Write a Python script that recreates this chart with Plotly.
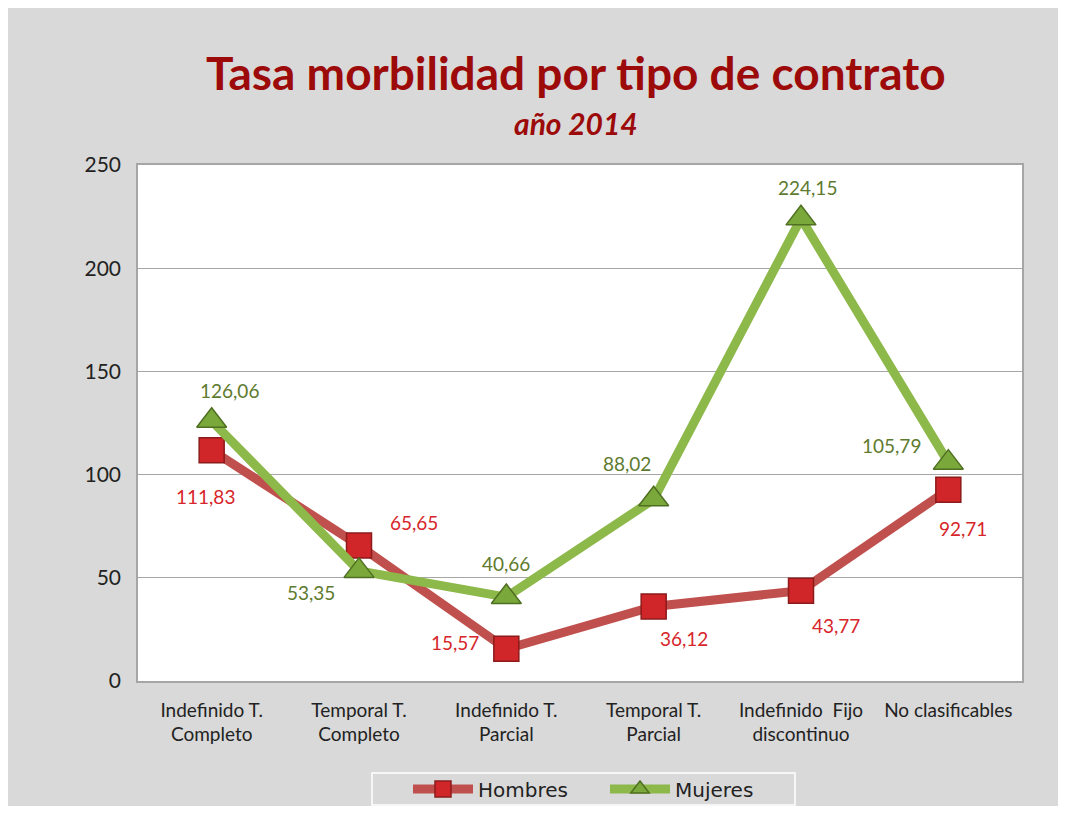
import plotly.graph_objects as go

categories = ["Indefinido T.<br>Completo", "Temporal T.<br>Completo", "Indefinido T.<br>Parcial",
              "Temporal T.<br>Parcial", "Indefinido  Fijo<br>discontinuo", "No clasificables"]
hombres = [111.83, 65.65, 15.57, 36.12, 43.77, 92.71]
mujeres = [126.06, 53.35, 40.66, 88.02, 224.15, 105.79]
y_ticks = [0, 50, 100, 150, 200, 250]

# label offsets (pixels) – styling only
h_off = [(-6, 46), (55, -23), (-51, -6), (30, 32), (35, 35), (15, 39)]
m_off = [(18, -30), (-48, 22), (0, -34), (-27, -36), (6, -31), (-57, -17)]

def fmt(v):
    return f"{v:.2f}".replace(".", ",")

FONT = "Lato, 'Open Sans', sans-serif"

# page offset of the figure (default body margin)
OFF = 8
FW, FH = 1050, 798
# plot area in figure pixels
L, R, T, B = 130, 1014, 157, 673
W, H = R - L, B - T

def px(xp):  # page x -> paper
    return (xp - OFF - L) / W

def py(yp):  # page y -> paper
    return (B - (yp - OFF)) / H

fig = go.Figure()
fig.add_trace(go.Scatter(
    x=categories, y=hombres, name="Hombres", mode="lines+markers",
    line=dict(color="#c0504d", width=9),
    marker=dict(symbol="square", size=25, color="#d0262a", line=dict(color="#8c1b1b", width=1.5)),
))
fig.add_trace(go.Scatter(
    x=categories, y=mujeres, name="Mujeres", mode="lines+markers",
    line=dict(color="#8db84a", width=9),
    marker=dict(symbol="triangle-up", size=26, color="#7aa83a", line=dict(color="#4f6f22", width=1.5)),
))

annotations = []
for c, v, (dx, dy) in zip(categories, hombres, h_off):
    annotations.append(dict(x=c, y=v, xref="x", yref="y", text=fmt(v), showarrow=False,
                            xshift=dx, yshift=-dy, font=dict(family=FONT, size=19, color="#d7262b")))
for c, v, (dx, dy) in zip(categories, mujeres, m_off):
    annotations.append(dict(x=c, y=v, xref="x", yref="y", text=fmt(v), showarrow=False,
                            xshift=dx, yshift=-dy, font=dict(family=FONT, size=19, color="#5e7a2e")))

annotations.append(dict(x=px(576), y=py(73), xref="paper", yref="paper", showarrow=False,
                        xanchor="center", yanchor="middle",
                        text="<b>Tasa morbilidad por tipo de contrato</b>",
                        font=dict(family=FONT, size=46, color="#9c0a0a")))
annotations.append(dict(x=px(576), y=py(123), xref="paper", yref="paper", showarrow=False,
                        xanchor="center", yanchor="middle",
                        text="<b><i>año 2014</i></b>",
                        font=dict(family=FONT, size=30, color="#9c0a0a")))

fig.update_layout(
    width=FW, height=FH,
    margin=dict(l=L, r=FW - R, t=T, b=FH - B, autoexpand=False),
    paper_bgcolor="#d9d9d9", plot_bgcolor="white",
    font=dict(family=FONT, size=18, color="#222222"),
    showlegend=True,
    legend=dict(orientation="h", x=px(408), xanchor="left", y=py(789), yanchor="middle",
                bgcolor="rgba(0,0,0,0)", borderwidth=0, entrywidth=122, entrywidthmode="pixels",
                font=dict(family="DejaVu Sans, sans-serif", size=20, color="#222222"), itemwidth=60),
    annotations=annotations,
    shapes=[dict(type="rect", xref="paper", yref="paper", layer="below",
                 x0=px(372), x1=px(795), y0=py(805), y1=py(773),
                 fillcolor="rgba(0,0,0,0)", line=dict(width=1.5, color="white"))],
)
fig.update_xaxes(range=[-0.5, 5.5], showline=True, linecolor="#a6a6a6", linewidth=1.5, mirror=True,
                 showgrid=False, ticks="", ticklabelstandoff=11, automargin=False,
                 tickfont=dict(family=FONT, size=19, color="#222222"))
fig.update_yaxes(range=[0, 250], tickvals=y_ticks, showline=True, linecolor="#a6a6a6", linewidth=1.5,
                 mirror=True, showgrid=True, gridcolor="#a6a6a6", gridwidth=1, zeroline=False,
                 automargin=False,
                 ticks="", ticklabelstandoff=11, tickfont=dict(family=FONT, size=21, color="#222222"))

fig.write_html("out.html")
